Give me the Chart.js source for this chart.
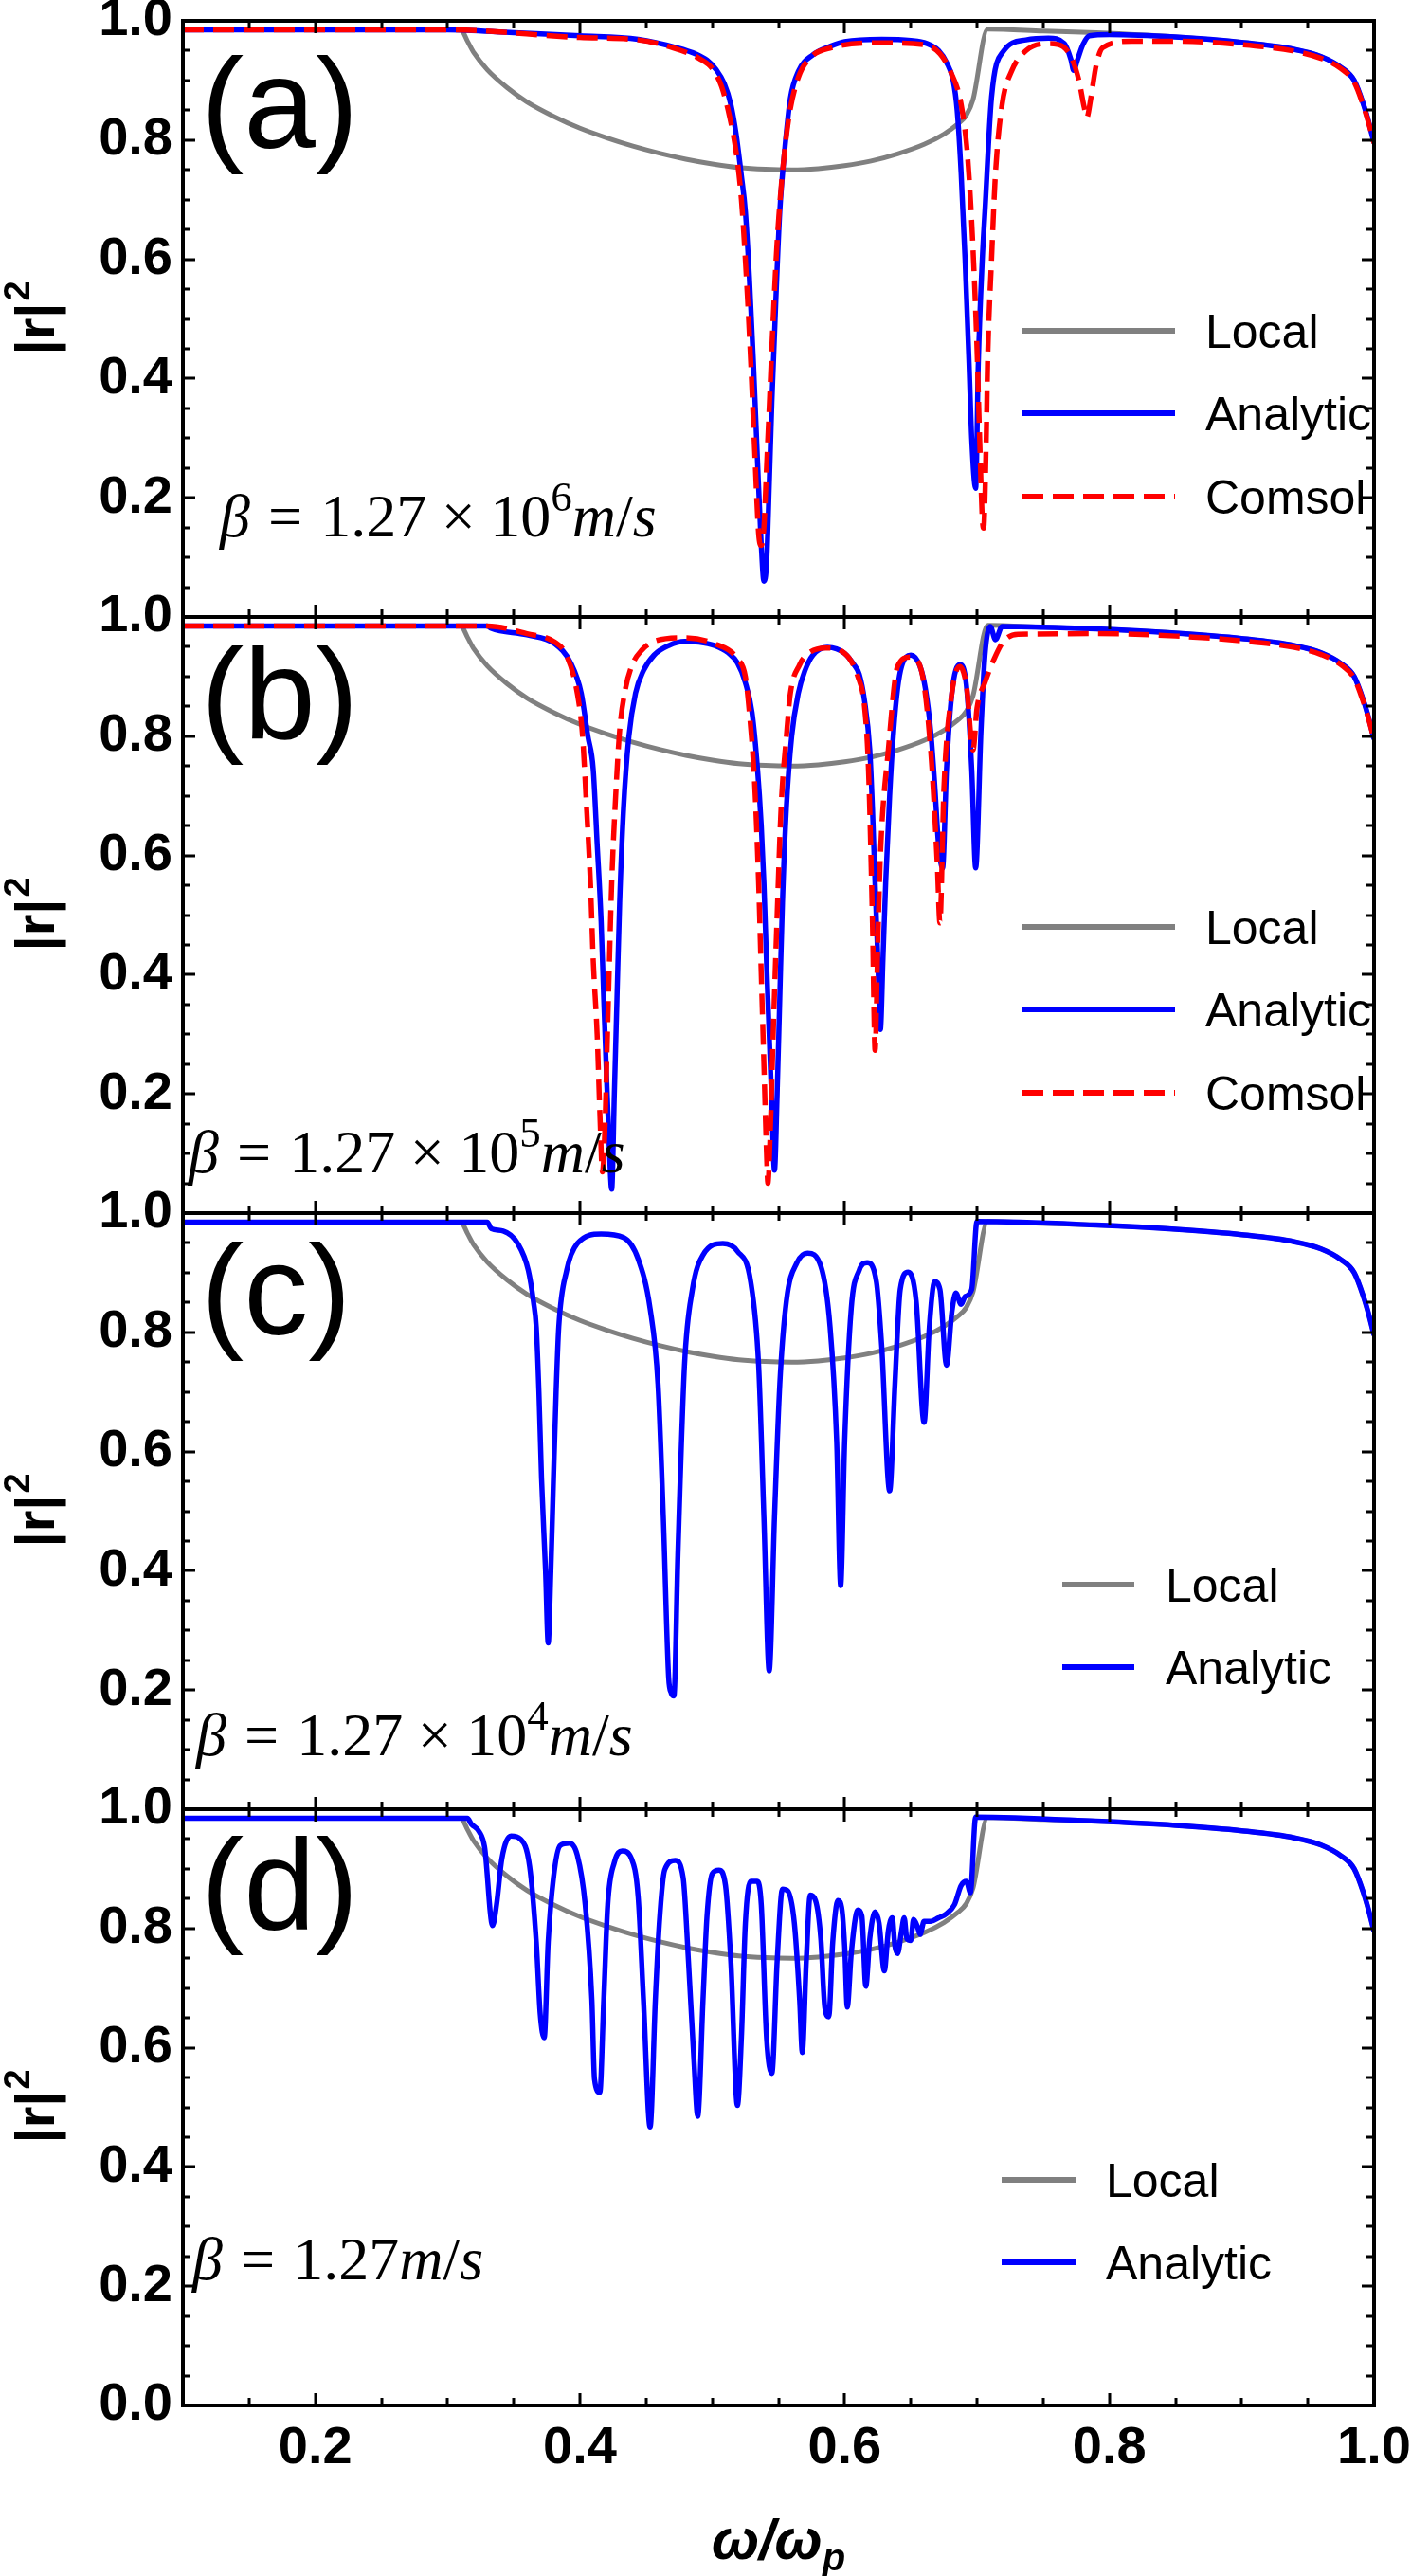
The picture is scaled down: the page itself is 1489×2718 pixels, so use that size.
<!DOCTYPE html>
<html>
<head>
<meta charset="utf-8">
<script src="https://cdn.jsdelivr.net/npm/chart.js@4.4.1/dist/chart.umd.min.js"></script>
<style>
  html, body { margin: 0; padding: 0; background: #fff; }
  #wrap { position: relative; width: 1489px; height: 2718px; overflow: hidden; background: #fff; }
  #wrap canvas { position: absolute; left: 0; }
</style>
</head>
<body>
<div id="wrap">
  <canvas id="pa"></canvas>
  <canvas id="pb"></canvas>
  <canvas id="pc"></canvas>
  <canvas id="pd"></canvas>
</div>
<script>
// ---- data: [omega/omega_p, |r|^2] pairs ----
var localCurve = [[0.10,0.985],[0.31,0.985],[0.315,0.966],[0.32,0.946],[0.33,0.918],[0.345,0.888],[0.36,0.864],[0.38,0.84],[0.40,0.82],[0.42,0.804],[0.44,0.79],[0.46,0.778],[0.48,0.768],[0.50,0.76],[0.52,0.754],[0.54,0.751],[0.56,0.75],[0.58,0.752],[0.60,0.757],[0.62,0.765],[0.64,0.777],[0.66,0.793],[0.675,0.81],[0.685,0.826],[0.692,0.842],[0.697,0.868],[0.708,0.986],[0.75,0.983],[0.79,0.98],[0.85,0.973],[0.90,0.964],[0.94,0.952],[0.96,0.94],[0.975,0.922],[0.985,0.9],[0.992,0.86],[0.996,0.83],[1.0,0.795]];

var aAnalytic = [[0.10,0.985],[0.30,0.985],[0.35,0.98],[0.40,0.975],[0.444,0.969],[0.473,0.955],[0.488,0.944],[0.496,0.934],[0.503,0.918],[0.509,0.895],[0.514,0.86],[0.518,0.81],[0.522,0.74],[0.525,0.68],[0.528,0.57],[0.531,0.43],[0.534,0.27],[0.537,0.12],[0.539,0.06],[0.541,0.09],[0.543,0.22],[0.545,0.36],[0.548,0.53],[0.551,0.68],[0.555,0.79],[0.559,0.87],[0.565,0.915],[0.576,0.943],[0.59,0.958],[0.60,0.965],[0.628,0.969],[0.65,0.967],[0.662,0.962],[0.671,0.95],[0.677,0.93],[0.682,0.9],[0.685,0.85],[0.688,0.745],[0.691,0.6],[0.694,0.426],[0.696,0.3],[0.699,0.216],[0.701,0.426],[0.704,0.6],[0.706,0.68],[0.711,0.872],[0.72,0.949],[0.737,0.968],[0.754,0.971],[0.766,0.962],[0.771,0.935],[0.773,0.917],[0.776,0.935],[0.78,0.96],[0.785,0.975],[0.80,0.977],[0.85,0.973],[0.90,0.964],[0.94,0.952],[0.96,0.94],[0.975,0.922],[0.985,0.9],[0.992,0.86],[0.996,0.83],[1.0,0.795]];

var aComsol = [[0.10,0.985],[0.30,0.985],[0.40,0.972],[0.444,0.968],[0.47,0.955],[0.49,0.937],[0.50,0.92],[0.507,0.89],[0.513,0.84],[0.518,0.78],[0.522,0.70],[0.526,0.56],[0.529,0.43],[0.532,0.28],[0.535,0.14],[0.537,0.12],[0.539,0.15],[0.541,0.25],[0.543,0.35],[0.546,0.5],[0.549,0.63],[0.553,0.745],[0.558,0.84],[0.565,0.905],[0.575,0.94],[0.59,0.955],[0.628,0.963],[0.66,0.96],[0.672,0.945],[0.68,0.915],[0.688,0.86],[0.693,0.77],[0.697,0.617],[0.70,0.45],[0.702,0.3],[0.704,0.165],[0.705,0.149],[0.707,0.3],[0.708,0.426],[0.711,0.6],[0.714,0.745],[0.719,0.86],[0.726,0.915],[0.737,0.95],[0.754,0.962],[0.765,0.957],[0.772,0.935],[0.777,0.9],[0.781,0.855],[0.783,0.838],[0.786,0.87],[0.79,0.925],[0.795,0.955],[0.817,0.966],[0.85,0.966],[0.90,0.96],[0.94,0.949],[0.96,0.937],[0.975,0.92],[0.985,0.897],[0.992,0.857],[0.996,0.828],[1.0,0.795]];

var bAnalytic = [[0.10,0.985],[0.33,0.985],[0.333,0.981],[0.36,0.97],[0.381,0.955],[0.393,0.923],[0.401,0.872],[0.406,0.8],[0.41,0.745],[0.413,0.62],[0.416,0.49],[0.418,0.36],[0.42,0.235],[0.422,0.12],[0.424,0.04],[0.426,0.2],[0.428,0.362],[0.43,0.52],[0.433,0.681],[0.437,0.8],[0.442,0.872],[0.448,0.91],[0.456,0.936],[0.467,0.952],[0.479,0.959],[0.49,0.958],[0.502,0.952],[0.512,0.94],[0.519,0.923],[0.525,0.89],[0.53,0.84],[0.534,0.75],[0.537,0.65],[0.539,0.554],[0.541,0.42],[0.543,0.3],[0.545,0.18],[0.547,0.072],[0.549,0.2],[0.551,0.362],[0.553,0.52],[0.556,0.681],[0.56,0.8],[0.565,0.872],[0.57,0.91],[0.576,0.936],[0.587,0.949],[0.60,0.939],[0.607,0.92],[0.611,0.904],[0.615,0.86],[0.619,0.777],[0.621,0.68],[0.623,0.554],[0.625,0.43],[0.627,0.308],[0.629,0.43],[0.631,0.554],[0.634,0.7],[0.637,0.809],[0.64,0.88],[0.643,0.917],[0.65,0.936],[0.657,0.917],[0.661,0.88],[0.665,0.809],[0.668,0.72],[0.671,0.617],[0.674,0.579],[0.677,0.745],[0.681,0.872],[0.687,0.92],[0.692,0.885],[0.696,0.745],[0.699,0.579],[0.703,0.809],[0.706,0.936],[0.71,0.984],[0.714,0.962],[0.719,0.984],[0.79,0.98],[0.85,0.973],[0.90,0.964],[0.94,0.952],[0.96,0.94],[0.975,0.922],[0.985,0.9],[0.992,0.86],[0.996,0.83],[1.0,0.795]];

var bComsol = [[0.10,0.985],[0.33,0.985],[0.36,0.972],[0.381,0.958],[0.39,0.935],[0.398,0.872],[0.402,0.8],[0.405,0.681],[0.408,0.55],[0.41,0.426],[0.413,0.3],[0.415,0.171],[0.417,0.069],[0.419,0.15],[0.42,0.235],[0.422,0.4],[0.424,0.554],[0.427,0.7],[0.43,0.809],[0.434,0.875],[0.439,0.917],[0.447,0.945],[0.456,0.959],[0.479,0.965],[0.502,0.955],[0.519,0.93],[0.525,0.9],[0.528,0.84],[0.532,0.72],[0.535,0.554],[0.537,0.4],[0.539,0.25],[0.541,0.1],[0.542,0.05],[0.544,0.15],[0.546,0.3],[0.549,0.5],[0.552,0.681],[0.556,0.8],[0.559,0.872],[0.566,0.92],[0.571,0.936],[0.585,0.948],[0.60,0.939],[0.61,0.9],[0.615,0.85],[0.618,0.745],[0.621,0.49],[0.623,0.273],[0.625,0.45],[0.627,0.6],[0.633,0.777],[0.64,0.917],[0.65,0.933],[0.658,0.91],[0.665,0.777],[0.67,0.585],[0.672,0.487],[0.675,0.713],[0.681,0.872],[0.687,0.917],[0.692,0.885],[0.697,0.777],[0.70,0.847],[0.706,0.89],[0.713,0.93],[0.72,0.959],[0.731,0.971],[0.79,0.972],[0.85,0.968],[0.90,0.96],[0.94,0.949],[0.96,0.937],[0.975,0.92],[0.985,0.897],[0.992,0.857],[0.996,0.828],[1.0,0.795]];

var cAnalytic = [[0.10,0.985],[0.33,0.985],[0.333,0.974],[0.342,0.97],[0.353,0.949],[0.361,0.904],[0.365,0.85],[0.367,0.809],[0.369,0.7],[0.371,0.554],[0.374,0.4],[0.376,0.279],[0.378,0.4],[0.38,0.554],[0.382,0.7],[0.384,0.809],[0.39,0.904],[0.398,0.949],[0.416,0.965],[0.433,0.959],[0.444,0.923],[0.453,0.84],[0.459,0.713],[0.463,0.49],[0.467,0.222],[0.469,0.195],[0.471,0.19],[0.474,0.426],[0.479,0.745],[0.485,0.872],[0.493,0.93],[0.508,0.949],[0.519,0.936],[0.529,0.885],[0.535,0.745],[0.539,0.49],[0.543,0.232],[0.547,0.49],[0.551,0.713],[0.556,0.853],[0.564,0.917],[0.572,0.933],[0.582,0.911],[0.589,0.809],[0.594,0.617],[0.597,0.375],[0.60,0.617],[0.605,0.84],[0.611,0.904],[0.617,0.917],[0.624,0.885],[0.628,0.777],[0.634,0.534],[0.638,0.713],[0.642,0.872],[0.648,0.901],[0.654,0.853],[0.66,0.649],[0.664,0.809],[0.668,0.885],[0.672,0.872],[0.677,0.745],[0.681,0.834],[0.684,0.866],[0.688,0.847],[0.691,0.86],[0.696,0.872],[0.70,0.986],[0.79,0.98],[0.85,0.973],[0.90,0.964],[0.94,0.952],[0.96,0.94],[0.975,0.922],[0.985,0.9],[0.992,0.86],[0.996,0.83],[1.0,0.795]];

var dAnalytic = [[0.10,0.985],[0.315,0.985],[0.318,0.975],[0.324,0.962],[0.328,0.936],[0.334,0.805],[0.337,0.84],[0.341,0.917],[0.348,0.955],[0.355,0.95],[0.362,0.904],[0.367,0.777],[0.37,0.656],[0.373,0.617],[0.376,0.777],[0.38,0.885],[0.385,0.939],[0.392,0.943],[0.398,0.923],[0.404,0.84],[0.409,0.681],[0.411,0.547],[0.415,0.525],[0.418,0.68],[0.421,0.84],[0.426,0.911],[0.432,0.93],[0.439,0.917],[0.444,0.853],[0.448,0.681],[0.453,0.467],[0.457,0.681],[0.46,0.809],[0.464,0.898],[0.472,0.914],[0.478,0.885],[0.482,0.745],[0.486,0.585],[0.489,0.485],[0.493,0.681],[0.496,0.821],[0.50,0.892],[0.505,0.898],[0.51,0.872],[0.514,0.745],[0.519,0.503],[0.522,0.617],[0.525,0.809],[0.529,0.879],[0.534,0.879],[0.537,0.84],[0.541,0.617],[0.545,0.557],[0.549,0.745],[0.553,0.866],[0.557,0.863],[0.562,0.809],[0.566,0.68],[0.568,0.592],[0.571,0.745],[0.574,0.856],[0.578,0.847],[0.582,0.783],[0.585,0.668],[0.588,0.652],[0.591,0.777],[0.595,0.847],[0.598,0.831],[0.60,0.77],[0.602,0.668],[0.605,0.758],[0.61,0.831],[0.613,0.821],[0.616,0.703],[0.619,0.783],[0.623,0.828],[0.626,0.809],[0.63,0.729],[0.633,0.796],[0.636,0.818],[0.638,0.77],[0.64,0.758],[0.643,0.796],[0.645,0.818],[0.647,0.783],[0.65,0.78],[0.652,0.815],[0.655,0.803],[0.657,0.79],[0.66,0.812],[0.665,0.812],[0.671,0.818],[0.677,0.825],[0.683,0.84],[0.688,0.872],[0.692,0.879],[0.695,0.86],[0.699,0.987],[0.79,0.98],[0.85,0.973],[0.90,0.964],[0.94,0.952],[0.96,0.94],[0.975,0.922],[0.985,0.9],[0.992,0.86],[0.996,0.83],[1.0,0.795]];

var xTicks = [0.2, 0.4, 0.6, 0.8, 1.0];
var xTickLabels = ['0.2', '0.4', '0.6', '0.8', '1.0'];
var yTicks = [0, 0.2, 0.4, 0.6, 0.8, 1.0];
var yTickLabels = ['0.0', '0.2', '0.4', '0.6', '0.8', '1.0'];
var seriesNames = ['Local', 'Analytic', 'Comsol'];
var panelLetters = ['(a)', '(b)', '(c)', '(d)'];
var betaExponents = ['6', '5', '4', null];

// ---- layout ----
var PAGE_W = 1489, PAGE_H = 2718;
var AREA_LEFT = 193, AREA_RIGHT = 1450;
var panelTops = [22, 651, 1280, 1909];
var PANEL_H = 629;
var PAD = 40;

var GRAY = '#808080', BLUE = '#0000ff', RED = '#ff0000';
var SANS = '"Liberation Sans", Arial, sans-serif';
var SERIF = '"Liberation Serif", "Times New Roman", serif';

var panels = [
  { id: 'pa', analytic: aAnalytic, comsol: aComsol, betaX: 232, betaY: 544, betaSize: 64, letterY: 134,
    legend: { x0: 1079, x1: 1240, tx: 1272, rows: [327, 414, 502] } },
  { id: 'pb', analytic: bAnalytic, comsol: bComsol, betaX: 199, betaY: 586, betaSize: 64, letterY: 128,
    legend: { x0: 1079, x1: 1240, tx: 1272, rows: [327, 414, 502] } },
  { id: 'pc', analytic: cAnalytic, comsol: null, betaX: 207, betaY: 572, betaSize: 64, letterY: 128,
    legend: { x0: 1121, x1: 1197, tx: 1230, rows: [392, 479] } },
  { id: 'pd', analytic: dAnalytic, comsol: null, betaX: 203, betaY: 496, betaSize: 64, letterY: 126,
    legend: { x0: 1057, x1: 1135, tx: 1167, rows: [391, 478] } }
];

function toXY(pts) {
  return pts.map(function (p) { return { x: p[0], y: p[1] }; });
}

// frame with inward major/minor ticks on all four sides
var framePlugin = {
  id: 'frame',
  afterDatasetsDraw: function (chart) {
    var ctx = chart.ctx, a = chart.chartArea;
    var xs = chart.scales.x, ys = chart.scales.y;
    ctx.save();
    ctx.strokeStyle = '#000';
    ctx.lineWidth = 3;
    ctx.beginPath();
    for (var k = 3; k < 20; k++) {
      var px = Math.round(xs.getPixelForValue(k / 20));
      var len = (k % 4 === 0) ? 13 : 8;
      ctx.moveTo(px, a.top); ctx.lineTo(px, a.top + len);
      ctx.moveTo(px, a.bottom); ctx.lineTo(px, a.bottom - len);
    }
    for (var j = 1; j < 20; j++) {
      var py = Math.round(ys.getPixelForValue(j / 20));
      var l2 = (j % 4 === 0) ? 13 : 8;
      ctx.moveTo(a.left, py); ctx.lineTo(a.left + l2, py);
      ctx.moveTo(a.right, py); ctx.lineTo(a.right - l2, py);
    }
    ctx.stroke();
    ctx.lineWidth = 4;
    ctx.strokeRect(a.left, a.top, a.right - a.left, a.bottom - a.top);
    ctx.restore();
  }
};

function drawBeta(ctx, x, y, size, exp) {
  var rom = size + 'px ' + SERIF;
  var ita = 'italic ' + size + 'px ' + SERIF;
  var sup = Math.round(size * 0.7) + 'px ' + SERIF;
  var parts = [[ita, '\u03b2', 0], [null, 0.3], [rom, '=', 0], [null, 0.3], [rom, '1.27', 0]];
  if (exp) {
    parts.push([null, 0.24], [rom, '\u00d7', 0], [null, 0.24], [rom, '10', 0], [sup, exp, -0.42]);
  }
  parts.push([ita, 'm', 0], [rom, '/', 0], [ita, 's', 0]);
  ctx.fillStyle = '#000';
  ctx.textBaseline = 'alphabetic';
  ctx.textAlign = 'left';
  parts.forEach(function (p) {
    if (p[0] === null) { x += p[1] * size; return; }
    ctx.font = p[0];
    ctx.fillText(p[1], x, y + p[2] * size);
    x += ctx.measureText(p[1]).width;
  });
}

function makeTextPlugin(p, idx, isLast) {
  return {
    id: 'panelText',
    afterDraw: function (chart) {
      var ctx = chart.ctx, a = chart.chartArea;
      ctx.save();
      ctx.fillStyle = '#000';

      // panel letter
      ctx.font = '136px ' + SANS;
      ctx.textAlign = 'left';
      ctx.textBaseline = 'alphabetic';
      ctx.fillText(panelLetters[idx], 212, a.top + p.letterY);

      // beta annotation
      drawBeta(ctx, p.betaX, a.top + p.betaY, p.betaSize, betaExponents[idx]);

      // legend
      var ds = chart.data.datasets;
      var lg = p.legend;
      ctx.font = '50px ' + SANS;
      for (var i = 0; i < lg.rows.length; i++) {
        var d = ds[i];
        var ly = a.top + lg.rows[i];
        ctx.beginPath();
        ctx.strokeStyle = d.borderColor;
        ctx.lineWidth = 6;
        ctx.setLineDash(d.borderDash || []);
        ctx.moveTo(lg.x0, ly);
        ctx.lineTo(lg.x1, ly);
        ctx.stroke();
        ctx.setLineDash([]);
        ctx.fillText(d.label, lg.tx, ly + 18);
      }

      // y title |r|^2
      ctx.save();
      ctx.translate(57, a.top + PANEL_H / 2);
      ctx.rotate(-Math.PI / 2);
      ctx.font = 'bold 58px ' + SANS;
      var w1 = ctx.measureText('|r|').width;
      ctx.font = 'bold 38px ' + SANS;
      var w2 = ctx.measureText('2').width;
      var sx = -(w1 + w2) / 2;
      ctx.font = 'bold 58px ' + SANS;
      ctx.fillText('|r|', sx, 0);
      ctx.font = 'bold 38px ' + SANS;
      ctx.fillText('2', sx + w1 + 2, -26);
      ctx.restore();

      // x title on the last panel
      if (isLast) {
        var cx = (a.left + a.right) / 2;
        var by = a.bottom + 162;
        ctx.font = 'italic bold 60px ' + SANS;
        var t1 = ctx.measureText('\u03c9/\u03c9').width;
        ctx.font = 'italic bold 40px ' + SANS;
        var t2 = ctx.measureText('p').width;
        var x0 = cx - (t1 + t2) / 2;
        ctx.font = 'italic bold 60px ' + SANS;
        ctx.fillText('\u03c9/\u03c9', x0, by);
        ctx.font = 'italic bold 40px ' + SANS;
        ctx.fillText('p', x0 + t1, by + 12);
      }
      ctx.restore();
    }
  };
}

function makeChart(p, idx) {
  var isLast = idx === panels.length - 1;
  var top = panelTops[idx] - PAD;
  var h = isLast ? PAGE_H - top : PANEL_H + 2 * PAD;
  var canvas = document.getElementById(p.id);
  canvas.width = PAGE_W;
  canvas.height = h;
  canvas.style.top = top + 'px';
  canvas.style.width = PAGE_W + 'px';
  canvas.style.height = h + 'px';

  var datasets = [
    { label: seriesNames[0], data: toXY(localCurve), borderColor: GRAY, borderWidth: 5, order: 2 },
    { label: seriesNames[1], data: toXY(p.analytic), borderColor: BLUE, borderWidth: 5.5, order: 1 }
  ];
  if (p.comsol) {
    datasets.push({ label: seriesNames[2], data: toXY(p.comsol), borderColor: RED, borderWidth: 5.5,
      borderDash: [22, 10], order: 0 });
  }

  var tickFont = { family: SANS, size: 56, weight: 'bold' };

  return new Chart(canvas, {
    type: 'line',
    data: { datasets: datasets },
    options: {
      responsive: false,
      maintainAspectRatio: false,
      animation: false,
      devicePixelRatio: 1,
      layout: { padding: { top: PAD, bottom: isLast ? 0 : PAD, left: 0, right: PAGE_W - AREA_RIGHT } },
      elements: {
        point: { radius: 0 },
        line: { cubicInterpolationMode: 'monotone', fill: false, borderCapStyle: 'butt', borderJoinStyle: 'miter' }
      },
      plugins: { legend: { display: false }, tooltip: { enabled: false } },
      scales: {
        x: {
          type: 'linear', min: 0.1, max: 1.0,
          display: isLast,
          grid: { display: false, drawTicks: false },
          border: { display: false },
          ticks: {
            autoSkip: false, maxRotation: 0, padding: 12, color: '#000', font: tickFont,
            callback: function (v, i) { return xTickLabels[i]; }
          },
          afterBuildTicks: function (s) { s.ticks = xTicks.map(function (v) { return { value: v }; }); },
          afterFit: function (s) {
            s.height = isLast ? h - PAD - PANEL_H : 0;
            s.paddingLeft = 0; s.paddingRight = 0;
          }
        },
        y: {
          type: 'linear', min: 0, max: 1.0,
          grid: { display: false, drawTicks: false },
          border: { display: false },
          ticks: {
            autoSkip: false, padding: 11, color: '#000', font: tickFont,
            callback: function (v, i) { return (!isLast && i === 0) ? '' : yTickLabels[i]; }
          },
          afterBuildTicks: function (s) { s.ticks = yTicks.map(function (v) { return { value: v }; }); },
          afterFit: function (s) {
            s.width = AREA_LEFT;
            s.paddingTop = 0; s.paddingBottom = 0;
          }
        }
      }
    },
    plugins: [framePlugin, makeTextPlugin(p, idx, isLast)]
  });
}

panels.forEach(makeChart);
</script>
</body>
</html>
